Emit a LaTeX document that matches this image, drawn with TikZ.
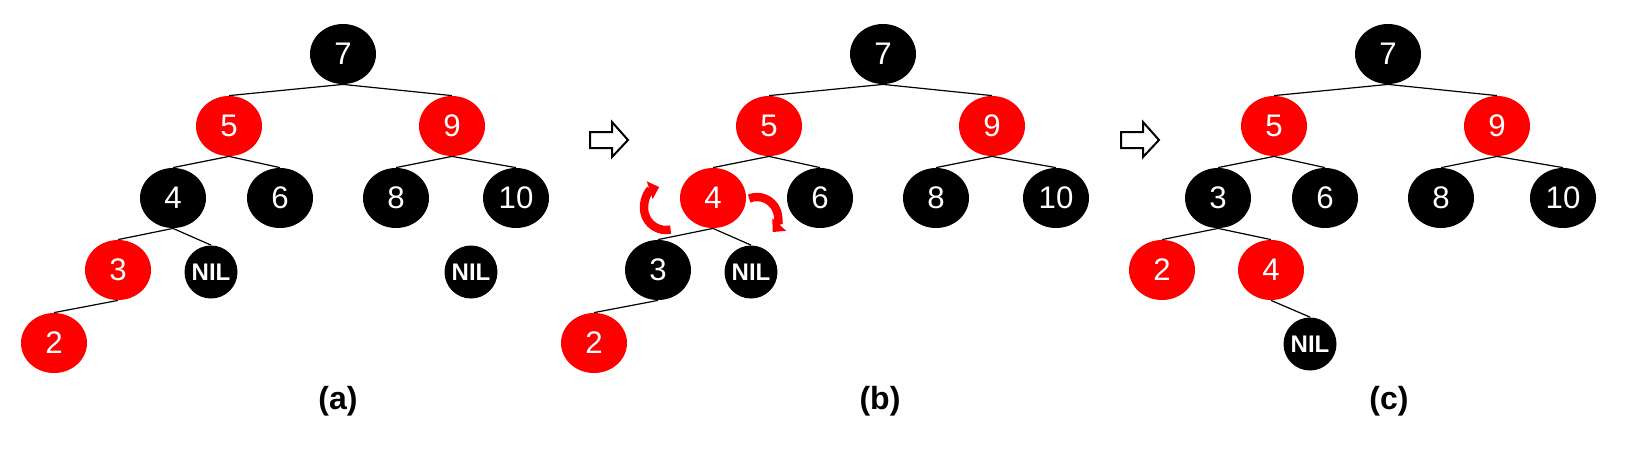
\documentclass[tikz,border=0pt]{standalone}
\usepackage{fontspec}
\setmainfont{Liberation Sans}
\usetikzlibrary{shapes.geometric,arrows.meta}

\tikzset{
  key/.style={ellipse,minimum width=33pt,minimum height=30pt,inner sep=0pt,
    text=white,font=\fontsize{15.6}{18}\selectfont},
  redkey/.style={key,fill=RBred},
  blackkey/.style={key,fill=black},
  nilkey/.style={circle,minimum size=26.5pt,inner sep=0pt,fill=black,
    text=white,font=\bfseries\fontsize{12}{14}\selectfont},
  link/.style={line width=0.6pt},
  turn/.style={RBred,line width=4.2pt,-{Triangle[length=5pt,width=9pt]}},
  caption/.style={font=\bfseries\fontsize{16}{19}\selectfont}
}

\begin{document}
\begin{tikzpicture}[x=0.5pt,y=0.5pt]
%\draw[help lines] (0,0) grid (1636,-456);
\colorlet{RBred}{red}
\useasboundingbox (0,0) rectangle (1636,-456);

%% Tree (a)
\node[blackkey] (a7) at (343,-54) {7};
\node[redkey] (a5) at (229,-126) {5};
\node[redkey] (a9) at (452,-126) {9};
\node[blackkey] (a4) at (173,-198) {4};
\node[blackkey] (a6) at (280,-198) {6};
\node[blackkey] (a8) at (396,-198) {8};
\node[blackkey] (a10) at (516,-198) {10};
\node[redkey] (a3) at (118,-270) {3};
\node[nilkey] (anil) at (211,-272) {NIL};
\node[nilkey] (anil2) at (471,-272) {NIL};
\node[redkey] (a2) at (54,-343) {2};
\draw[link] (a7.south) -- (a5.north);
\draw[link] (a7.south) -- (a9.north);
\draw[link] (a5.south) -- (a4.north);
\draw[link] (a5.south) -- (a6.north);
\draw[link] (a9.south) -- (a8.north);
\draw[link] (a9.south) -- (a10.north);
\draw[link] (a4.south) -- (a3.north);
\draw[link] (a4.south) -- (anil.north);
\draw[link] (a3.south) -- (a2.north);
\node[caption] (capa) at (338,-401) {(a)};

%% Arrow (a) -> (b)
\draw[line width=1pt,line join=miter] (590,-132) -- (612,-132) -- (612,-122)
	-- (628,-140) -- (612,-157) -- (612,-148) -- (590,-148) -- cycle;

%% Tree (b)
\node[blackkey] (b7) at (883,-54) {7};
\node[redkey] (b5) at (769,-126) {5};
\node[redkey] (b9) at (992,-126) {9};
\node[redkey] (b4) at (713,-198) {4};
\node[blackkey] (b6) at (820,-198) {6};
\node[blackkey] (b8) at (936,-198) {8};
\node[blackkey] (b10) at (1056,-198) {10};
\node[blackkey] (b3) at (658,-270) {3};
\node[nilkey] (bnil) at (751,-272) {NIL};
\node[redkey] (b2) at (594,-343) {2};
\draw[link] (b7.south) -- (b5.north);
\draw[link] (b7.south) -- (b9.north);
\draw[link] (b5.south) -- (b4.north);
\draw[link] (b5.south) -- (b6.north);
\draw[link] (b9.south) -- (b8.north);
\draw[link] (b9.south) -- (b10.north);
\draw[link] (b4.south) -- (b3.north);
\draw[link] (b4.south) -- (bnil.north);
\draw[link] (b3.south) -- (b2.north);
%% rotation hints round 4
\draw[turn] (666,-208) ++(282:22) arc[start angle=282,end angle=108,radius=22];
\draw[turn] (757,-218) ++(112:21) arc[start angle=112,end angle=-42,radius=21];
\node[caption] (capb) at (880,-401) {(b)};

%% Arrow (b) -> (c)
\draw[line width=1pt,line join=miter] (1121,-132) -- (1143,-132) -- (1143,-122)
	-- (1159,-140) -- (1143,-157) -- (1143,-148) -- (1121,-148) -- cycle;

%% Tree (c)
\node[blackkey] (c7) at (1388,-54) {7};
\node[redkey] (c5) at (1274,-126) {5};
\node[redkey] (c9) at (1497,-126) {9};
\node[blackkey] (c3) at (1218,-198) {3};
\node[blackkey] (c6) at (1325,-198) {6};
\node[blackkey] (c8) at (1441,-198) {8};
\node[blackkey] (c10) at (1563,-198) {10};
\node[redkey] (c2) at (1162,-270) {2};
\node[redkey] (c4) at (1271,-270) {4};
\node[nilkey] (cnil) at (1310,-344) {NIL};
\draw[link] (c7.south) -- (c5.north);
\draw[link] (c7.south) -- (c9.north);
\draw[link] (c5.south) -- (c3.north);
\draw[link] (c5.south) -- (c6.north);
\draw[link] (c9.south) -- (c8.north);
\draw[link] (c9.south) -- (c10.north);
\draw[link] (c3.south) -- (c2.north);
\draw[link] (c3.south) -- (c4.north);
\draw[link] (c4.south) -- (cnil.north);
\node[caption] (capc) at (1389,-401) {(c)};
\end{tikzpicture}
\end{document}
